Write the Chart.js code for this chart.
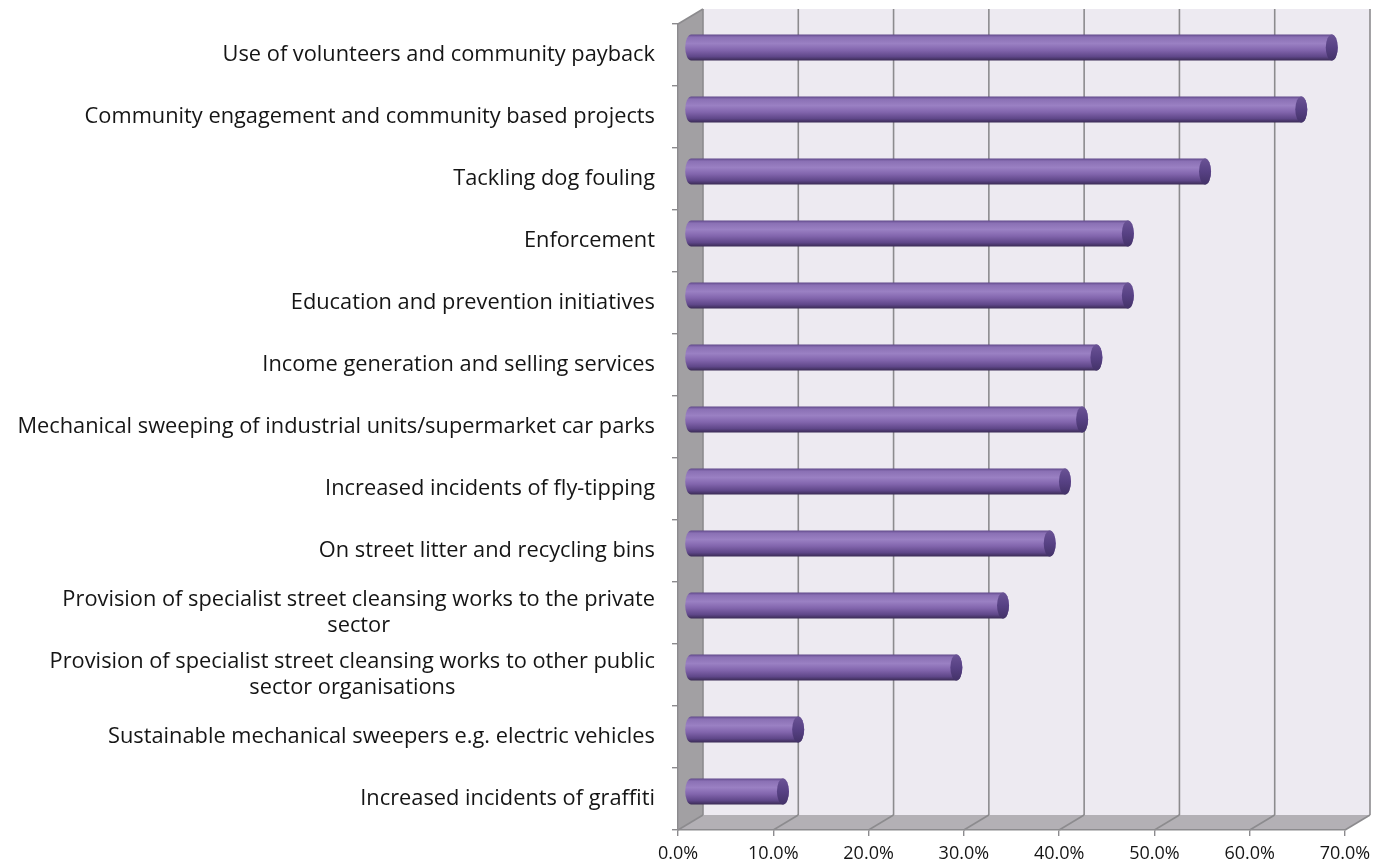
<!DOCTYPE html>
<html>
<head>
<meta charset="utf-8">
<script src="https://cdn.jsdelivr.net/npm/chart.js@4"></script>
<style>
  html, body { margin: 0; padding: 0; background: #fff; }
  #wrap { width: 1391px; height: 865px; }
</style>
</head>
<body>
<div id="wrap"><canvas id="barChart" width="1391" height="865"></canvas></div>
<script>
// categories, top to bottom
const categories = [
    'Use of volunteers and community payback',
    'Community engagement and community based projects',
    'Tackling dog fouling',
    'Enforcement',
    'Education and prevention initiatives',
    'Income generation and selling services',
    'Mechanical sweeping of industrial units/supermarket car parks',
    'Increased incidents of fly-tipping',
    'On street litter and recycling bins',
    ['Provision of specialist street cleansing works to the private', 'sector'],
    ['Provision of specialist street cleansing works to other public', 'sector organisations'],
    'Sustainable mechanical sweepers e.g. electric vehicles',
    'Increased incidents of graffiti'
];

// share of respondents (0..1)
const shares = [0.673, 0.641, 0.540, 0.459, 0.459, 0.426, 0.411, 0.393, 0.377, 0.328, 0.279, 0.113, 0.097];

const xTickLabels = ['0.0%', '10.0%', '20.0%', '30.0%', '40.0%', '50.0%', '60.0%', '70.0%'];

// fake 3d depth offset of the back wall
const DX = 25;
const DY = -15;

const FONT = '"Open Sans"';

function poly(ctx, pts, fill) {
    ctx.beginPath();
    ctx.moveTo(pts[0][0], pts[0][1]);
    pts.slice(1).forEach(p => ctx.lineTo(p[0], p[1]));
    ctx.closePath();
    ctx.fillStyle = fill;
    ctx.fill();
}

function line(ctx, x1, y1, x2, y2) {
    ctx.beginPath();
    ctx.moveTo(x1, y1);
    ctx.lineTo(x2, y2);
    ctx.stroke();
}

// back wall, side wall, floor + gridlines
const wallsPlugin = {
    id: 'walls',
    beforeDraw(chart) {
        const { ctx, chartArea: a, scales } = chart;
        const L = a.left, R = a.right, T = a.top, B = a.bottom;
        ctx.save();
        ctx.fillStyle = '#edeaf1';
        ctx.fillRect(L + DX, T + DY, R - L, B - T);
        poly(ctx, [[L, T], [L + DX, T + DY], [L + DX, B + DY], [L, B]], '#a2a0a3');
        poly(ctx, [[L, B], [L + DX, B + DY], [R + DX, B + DY], [R, B]], '#b3b0b5');

        ctx.strokeStyle = '#8c8b8e';
        ctx.lineWidth = 1.6;
        scales.x.ticks.forEach(t => {
            const px = scales.x.getPixelForValue(t.value);
            line(ctx, px + DX, T + DY, px + DX, B + DY);
            line(ctx, px, B, px + DX, B + DY);
        });
        line(ctx, L, T, L + DX, T + DY);
        ctx.restore();
    }
};

// cylinders drawn at mid depth from the bar elements
const cylinderPlugin = {
    id: 'cylinders',
    afterDatasetsDraw(chart) {
        const ctx = chart.ctx;
        const meta = chart.getDatasetMeta(0);
        ctx.save();
        meta.data.forEach(el => {
            const p = el.getProps(['x', 'y', 'base', 'height'], true);
            const x0 = p.base + DX / 2;
            const x1 = p.x + DX / 2;
            const cy = p.y + DY / 2;
            const r = p.height / 2;
            const rx = 6;

            const g = ctx.createLinearGradient(0, cy - r, 0, cy + r);
            g.addColorStop(0, '#5f4889');
            g.addColorStop(0.1, '#8a70b4');
            g.addColorStop(0.35, '#9a80c3');
            g.addColorStop(0.6, '#8265ad');
            g.addColorStop(0.85, '#5f4789');
            g.addColorStop(1, '#3a2b55');

            ctx.beginPath();
            ctx.moveTo(x1, cy - r);
            ctx.lineTo(x0, cy - r);
            ctx.ellipse(x0, cy, rx, r, 0, -Math.PI / 2, Math.PI / 2, true);
            ctx.lineTo(x1, cy + r);
            ctx.ellipse(x1, cy, rx, r, 0, Math.PI / 2, -Math.PI / 2, true);
            ctx.closePath();
            ctx.fillStyle = g;
            ctx.fill();

            const gc = ctx.createLinearGradient(0, cy - r, 0, cy + r);
            gc.addColorStop(0, '#6a5395');
            gc.addColorStop(0.5, '#574184');
            gc.addColorStop(1, '#433268');
            ctx.beginPath();
            ctx.ellipse(x1, cy, rx, r, 0, 0, Math.PI * 2);
            ctx.fillStyle = gc;
            ctx.fill();
        });
        ctx.restore();
    }
};

// category labels, multi-line ones centred on their longest line
const labelPlugin = {
    id: 'catLabels',
    afterDraw(chart) {
        const { ctx, scales: { y } } = chart;
        const right = y.right - 23;
        const lineH = 26;
        ctx.save();
        ctx.font = '21.8px ' + FONT;
        ctx.fillStyle = '#151515';
        ctx.textAlign = 'center';
        ctx.textBaseline = 'middle';
        categories.forEach((lab, i) => {
            const lines = [].concat(lab);
            const cy = y.getPixelForValue(i);
            const w = Math.max(...lines.map(s => ctx.measureText(s).width));
            const cx = right - w / 2;
            lines.forEach((s, j) => {
                ctx.fillText(s, cx, cy + (j - (lines.length - 1) / 2) * lineH);
            });
        });
        ctx.restore();
    }
};

const ctx = document.getElementById('barChart');

new Chart(ctx, {
    type: 'bar',
    data: {
        labels: categories,
        datasets: [{
            data: shares,
            backgroundColor: 'rgba(0,0,0,0)',
            borderWidth: 0,
            barThickness: 26
        }]
    },
    plugins: [wallsPlugin, cylinderPlugin, labelPlugin],
    options: {
        indexAxis: 'y',
        responsive: false,
        animation: false,
        layout: {
            padding: { top: 24, right: 46, left: 0, bottom: 0 }
        },
        plugins: {
            legend: { display: false },
            tooltip: { enabled: false }
        },
        scales: {
            x: {
                min: 0,
                max: 0.7,
                ticks: {
                    stepSize: 0.1,
                    color: '#151515',
                    font: { family: FONT, size: 18 },
                    padding: 7,
                    callback: (v, i) => xTickLabels[i]
                },
                grid: {
                    drawOnChartArea: false,
                    tickLength: 6,
                    color: '#8c8b8e',
                    lineWidth: 1.4
                },
                border: { color: '#8c8b8e', width: 1.4 },
                afterFit: s => { s.height = 35; }
            },
            y: {
                ticks: { display: false },
                grid: {
                    drawOnChartArea: false,
                    tickLength: 6,
                    color: '#8c8b8e',
                    lineWidth: 1.4
                },
                border: { color: '#8c8b8e', width: 1.4 },
                afterFit: s => { s.width = 678; }
            }
        }
    }
});
</script>
</body>
</html>
